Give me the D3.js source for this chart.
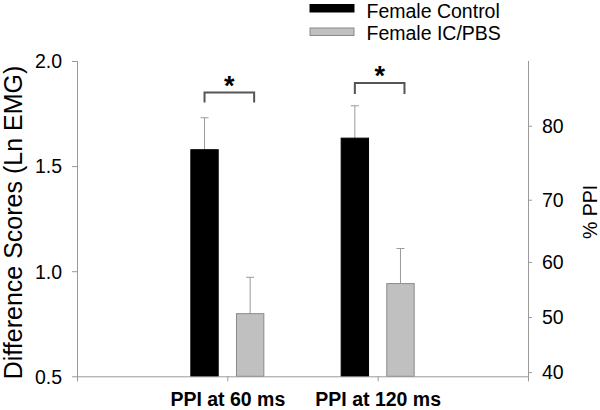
<!DOCTYPE html>
<html><head><meta charset="utf-8">
<script src="https://cdn.jsdelivr.net/npm/d3@7/dist/d3.min.js"></script>
<style>body{margin:0;background:#fff}svg{display:block}</style>
</head><body>
<svg id="c" width="600" height="410"></svg>
<script>
const categories = ["PPI at 60 ms", "PPI at 120 ms"];
const series = ["Female Control", "Female IC/PBS"];
const control = [1.578, 1.633];
const controlErr = [0.152, 0.154];
const icpbs = [0.798, 0.941];
const icpbsErr = [0.173, 0.167];
const leftTicks = [0.5, 1.0, 1.5, 2.0];
const ppiTicks = [40, 50, 60, 70, 80];
const ppiEquivalent = [0.52, 0.782, 1.044, 1.34, 1.692];
const brackets = [{cat: 0, top: 1.85, leg: 1.803}, {cat: 1, top: 1.895, leg: 1.843}];

const svg = d3.select("#c");
const font = "Liberation Sans, Arial, sans-serif";
const axisCol = "#9a9a9a";

const y = d3.scaleLinear().domain([0.5, 2.0]).range([376.3, 61]);
const x = d3.scaleLinear().domain([0, 3]).range([77, 528]);
const sub = d3.scaleBand().domain(series).range([-36.5, 36.5]).paddingInner(0.4);
const yR = d3.scaleLinear().domain(ppiTicks).range(ppiEquivalent.map(v => y(v)));
const colors = {"Female Control": "#000", "Female IC/PBS": "#c0c0c0"};
const strokes = {"Female Control": "#000", "Female IC/PBS": "#8a8a8a"};

const rows = categories.map((c, i) => ({c, i, vals: [
  {s: series[0], v: control[i], e: controlErr[i]},
  {s: series[1], v: icpbs[i], e: icpbsErr[i]}]}));

const g = svg.append("g");
rows.forEach(r => {
  const cx = x(r.i + 1);
  r.vals.forEach(d => {
    const bx = cx + sub(d.s);
    const bw = sub.bandwidth();
    const mx = bx + bw / 2;
    g.append("line").attr("x1", mx).attr("x2", mx).attr("y1", y(d.v)).attr("y2", y(d.v + d.e))
      .attr("stroke", axisCol).attr("stroke-width", 1);
    g.append("line").attr("x1", mx - 4).attr("x2", mx + 4).attr("y1", y(d.v + d.e)).attr("y2", y(d.v + d.e))
      .attr("stroke", axisCol).attr("stroke-width", 1);
    g.append("rect").attr("x", bx).attr("y", y(d.v)).attr("width", bw).attr("height", y(0.5) - y(d.v))
      .attr("fill", colors[d.s]).attr("stroke", strokes[d.s]).attr("stroke-width", 1);
  });
});

// left axis
const la = svg.append("g").attr("transform", "translate(77,0)")
  .call(d3.axisLeft(y).tickValues(leftTicks).tickFormat(d3.format(".1f")).tickSize(5).tickSizeOuter(0));
la.select(".domain").attr("stroke", axisCol).attr("d", "M0.5," + y(2.0) + "V" + (y(0.5) + 5));
la.selectAll(".tick line").attr("stroke", axisCol);
la.selectAll(".tick text").attr("font-family", font).attr("font-size", 19.5).attr("fill", "#000").attr("x", -15).attr("dy", "0.35em");

// right axis
const ra = svg.append("g").attr("transform", "translate(528,0)")
  .call(d3.axisRight(yR).tickValues(ppiTicks).tickSize(4).tickSizeOuter(0));
ra.select(".domain").attr("stroke", axisCol).attr("d", "M0.5," + y(2.0) + "V" + (y(0.5) + 3));
ra.selectAll(".tick line").attr("stroke", axisCol);
ra.selectAll(".tick text").attr("font-family", font).attr("font-size", 19.5).attr("fill", "#000").attr("x", 14).attr("dy", "0.35em");

// x axis
const xa = svg.append("g").attr("transform", "translate(0," + y(0.5) + ")")
  .call(d3.axisBottom(x).tickValues([0, 1, 2, 3]).tickFormat(d => categories[d - 1] || "").tickSize(5).tickSizeOuter(0));
xa.select(".domain").attr("stroke", axisCol);
xa.selectAll(".tick line").attr("stroke", axisCol);
xa.selectAll(".tick text").attr("font-family", font).attr("font-size", 19.5).attr("font-weight", "bold")
  .attr("fill", "#000").attr("y", 30).attr("dy", 0);

// brackets
brackets.forEach(b => {
  const cx = x(b.cat + 1);
  const x1 = cx + sub(series[0]) + sub.bandwidth() / 2;
  const x2 = cx + sub(series[1]) + sub.bandwidth() / 2 + 4;
  svg.append("path")
    .attr("d", `M${x1},${y(b.leg)}V${y(b.top)}H${x2}V${y(b.leg)}`)
    .attr("fill", "none").attr("stroke", "#555").attr("stroke-width", 2);
  svg.append("text").attr("x", (x1 + x2) / 2).attr("y", y(b.top) + 2)
    .attr("text-anchor", "middle").attr("font-family", font).attr("font-weight", "bold")
    .attr("font-size", 27).text("*");
});

// axis titles
svg.append("text").attr("transform", "translate(22," + 222.5 + ") rotate(-90)")
  .attr("text-anchor", "middle").attr("font-family", font).attr("font-size", 25)
  .text("Difference Scores (Ln EMG)");
svg.append("text").attr("transform", "translate(597," + 212 + ") rotate(-90)")
  .attr("text-anchor", "middle").attr("font-family", font).attr("font-size", 19.5)
  .text("% PPI");

// legend
const lg = svg.append("g");
series.forEach((s, i) => {
  lg.append("rect").attr("x", 310).attr("y", 4.5 + i * 23.5).attr("width", 44).attr("height", 7.5)
    .attr("fill", colors[s]).attr("stroke", strokes[s]).attr("stroke-width", 1);
  lg.append("text").attr("x", 366.5).attr("y", 18 + i * 22).attr("font-family", font)
    .attr("font-size", 19.5).text(s);
});
</script>
</body></html>
